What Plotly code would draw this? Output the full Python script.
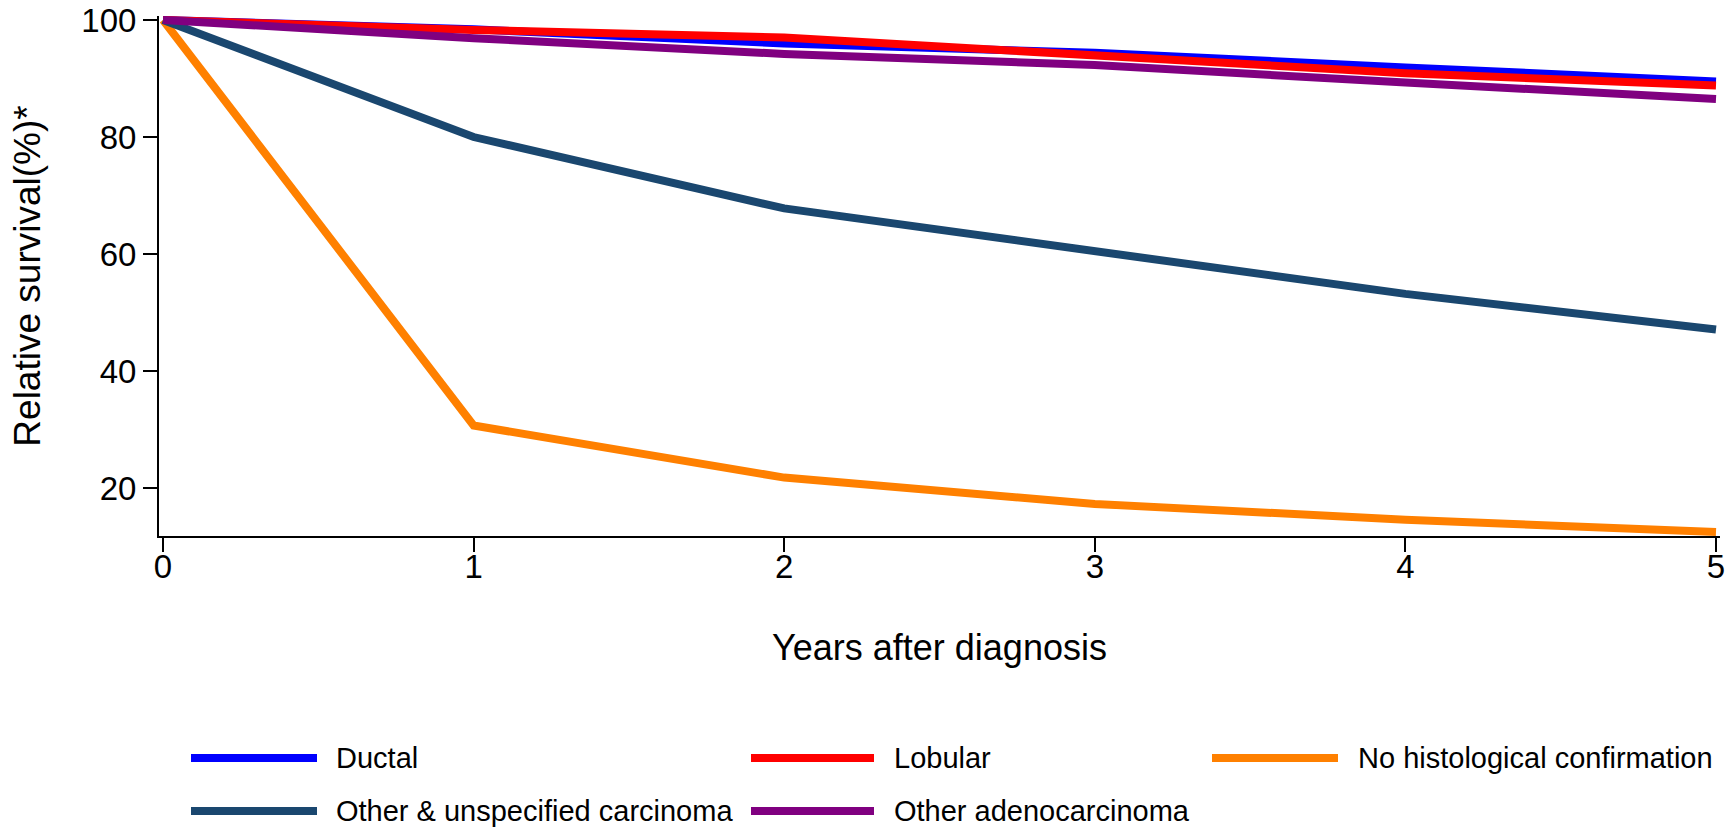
import plotly.graph_objects as go

# Relative survival by histological type, years 0-5 after diagnosis
years = [0, 1, 2, 3, 4, 5]
ductal = [100, 98.4, 96.0, 94.4, 91.9, 89.5]
lobular = [100, 98.3, 97.0, 93.8, 90.9, 88.8]
no_histo = [100, 30.7, 21.8, 17.3, 14.6, 12.5]
other_unspec = [100, 80.0, 67.8, 60.6, 53.2, 47.1]
other_adeno = [100, 96.9, 94.2, 92.3, 89.3, 86.5]

series_names = ["Ductal", "Lobular", "No histological confirmation",
                "Other & unspecified carcinoma", "Other adenocarcinoma"]
series_values = [ductal, lobular, no_histo, other_unspec, other_adeno]
series_colors = ["#0000ff", "#ff0000", "#ff8000", "#1a476f", "#800080"]

y_ticks = [20, 40, 60, 80, 100]
x_ticks = [0, 1, 2, 3, 4, 5]

W, H = 1731, 829
ML, MR, MT, MB = 159, 11, 16, 293
PW = W - ML - MR
PH = H - MT - MB

LINE_W = 8
FONT = "Liberation Sans, Arial, Helvetica, sans-serif"

fig = go.Figure()
for name, vals, col in zip(series_names, series_values, series_colors):
    fig.add_trace(go.Scatter(
        x=years, y=vals, mode="lines", name=name,
        line=dict(color=col, width=LINE_W),
        showlegend=False,
    ))

# half a line width of padding so the thick lines are not clipped at the edges
x_pad = (LINE_W / 2) / ((PW - LINE_W) / 5)
y_lo, y_hi = min(no_histo), 100
y_pad = (LINE_W / 2) / ((PH - LINE_W) / (y_hi - y_lo))

fig.update_layout(
    template="none",
    width=W, height=H,
    margin=dict(l=ML, r=MR, t=MT, b=MB, autoexpand=False),
    paper_bgcolor="white", plot_bgcolor="white",
    font=dict(family=FONT, color="black", size=33),
    xaxis=dict(
        range=[-x_pad, 5 + x_pad], tickvals=x_ticks, ticktext=[str(t) for t in x_ticks],
        showgrid=False, zeroline=False, showline=True, linecolor="black", linewidth=2,
        ticks="outside", ticklen=14, tickwidth=2, tickcolor="black",
        tickfont=dict(size=33), ticklabelstandoff=-14, automargin=False,
        title=dict(text="Years after diagnosis", font=dict(size=36), standoff=51),
    ),
    yaxis=dict(
        range=[y_lo - y_pad, y_hi + y_pad], tickvals=y_ticks, ticktext=[str(t) for t in y_ticks],
        showgrid=False, zeroline=False, showline=True, linecolor="black", linewidth=2,
        ticks="outside", ticklen=14, tickwidth=2, tickcolor="black",
        tickfont=dict(size=33), ticklabelstandoff=0, automargin=False,
        title=dict(text="Relative survival(%)*", font=dict(size=37), standoff=29),
    ),
)


def px_x(px):
    return (px - ML) / PW


def px_y(py):
    return (H - MB - py) / PH


# Legend laid out in three columns below the axis title
legend_slots = [
    (191, 317, 334, 758),
    (751, 874, 892, 758),
    (1212, 1338, 1356, 758),
    (191, 317, 334, 811),
    (751, 874, 892, 811),
]
for (x0, x1, tx, cy), name, col in zip(legend_slots, series_names, series_colors):
    fig.add_shape(type="line", xref="paper", yref="paper",
                  x0=px_x(x0), x1=px_x(x1), y0=px_y(cy), y1=px_y(cy),
                  line=dict(color=col, width=8))
    fig.add_annotation(xref="paper", yref="paper", x=px_x(tx), y=px_y(cy),
                       text=name, showarrow=False, xanchor="left", yanchor="middle",
                       font=dict(family=FONT, size=29, color="black"))

fig.write_html("out.html")
